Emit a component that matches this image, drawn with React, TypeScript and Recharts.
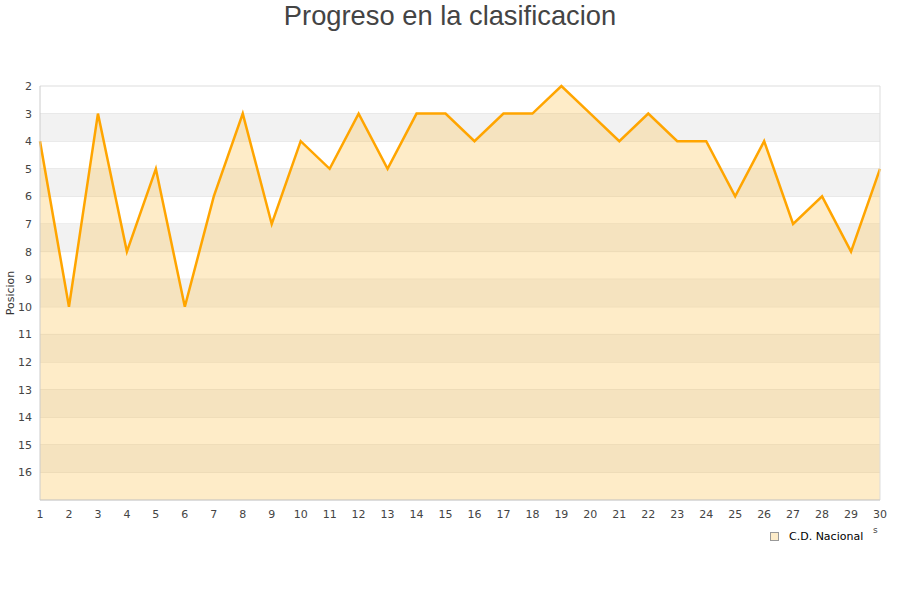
import React from "react";
import {
  ComposedChart,
  Area,
  XAxis,
  YAxis,
  CartesianGrid,
  ReferenceArea,
  ReferenceLine,
} from "recharts";

const jornadas = [1,2,3,4,5,6,7,8,9,10,11,12,13,14,15,16,17,18,19,20,21,22,23,24,25,26,27,28,29,30];
const posiciones = [4,10,3,8,5,10,6,3,7,4,5,3,5,3,3,4,3,3,2,3,4,3,4,4,6,4,7,6,8,5];
const yTicks = [2,3,4,5,6,7,8,9,10,11,12,13,14,15,16];
const grayBands = [3,5,7,9,11,13,15];
const seriesName = "C.D. Nacional";
const title = "Progreso en la clasificacion";
const yLabel = "Posicion";

const data = jornadas.map((j, i) => ({ j, pos: posiciones[i] }));

export default function App() {
  return (
    <div style={{ position: "absolute", left: 0, top: 0, width: 900, height: 600, background: "#fff", fontFamily: "'DejaVu Sans', sans-serif" }}>
      <div
        style={{
          position: "absolute",
          left: 0,
          top: 0,
          width: 900,
          textAlign: "center",
          fontFamily: "'Liberation Sans', Arial, sans-serif",
          fontSize: 27.3,
          lineHeight: "31px",
          color: "#444",
        }}
      >
        {title}
      </div>
      <ComposedChart
        width={900}
        height={600}
        data={data}
        margin={{ top: 86, right: 20, bottom: 70, left: 10 }}
        style={{ position: "absolute", left: 0, top: 0 }}
      >
        {grayBands.map((b) => (
          <ReferenceArea key={b} y1={b} y2={b + 1} fill="#f2f2f2" fillOpacity={1} stroke="none" ifOverflow="hidden" />
        ))}
        <CartesianGrid vertical={false} stroke="#dddddd" />
        <ReferenceLine x={30} stroke="#dddddd" />
        <XAxis
          dataKey="j"
          type="number"
          domain={[1, 30]}
          ticks={jornadas}
          interval={0}
          tickLine={false}
          axisLine={{ stroke: "#cccccc" }}
          tick={{ fill: "#444", fontSize: 11 }}
          tickMargin={4}
        />
        <YAxis
          type="number"
          reversed
          domain={[2, 17]}
          ticks={yTicks}
          interval={0}
          width={30}
          tickLine={false}
          axisLine={{ stroke: "#cccccc" }}
          tick={{ fill: "#444", fontSize: 11 }}
          tickMargin={2}
        />
        <Area
          type="linear"
          dataKey="pos"
          baseValue={17}
          stroke="#FFA500"
          strokeWidth={2.5}
          fill="rgb(251,192,72)"
          fillOpacity={0.3}
          dot={false}
          activeDot={false}
          isAnimationActive={false}
        />
      </ComposedChart>
      <div
        style={{
          position: "absolute",
          left: 10,
          top: 293,
          transform: "translate(-50%, -50%) rotate(-90deg)",
          fontSize: 11,
          color: "#333",
          whiteSpace: "nowrap",
        }}
      >
        {yLabel}
      </div>
      <div
        style={{
          position: "absolute",
          left: 770,
          top: 530,
          display: "flex",
          alignItems: "center",
          fontSize: 11,
          color: "#000",
        }}
      >
        <span
          style={{
            display: "inline-block",
            width: 7,
            height: 7,
            background: "#fdecc9",
            border: "1px solid #999",
            marginRight: 10,
          }}
        />
        <span>{seriesName}</span>
      </div>
      <div style={{ position: "absolute", left: 873, top: 525, fontSize: 9, color: "#444" }}>s</div>
    </div>
  );
}
